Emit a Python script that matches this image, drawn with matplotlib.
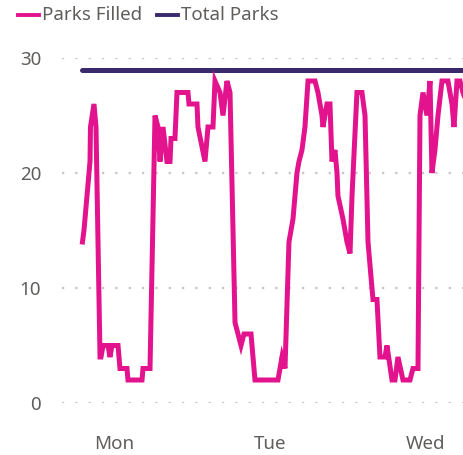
import matplotlib
matplotlib.use("Agg")
import matplotlib.pyplot as plt
from matplotlib.lines import Line2D

plt.rcParams['font.family'] = ['Noto Sans', 'DejaVu Sans']

# Occupancy readings: hours from Monday 00:00 and number of parks filled
hours = [-4.85, -4.62, -3.69, -3.62, -3.08, -2.77, -2.15, -2.00, -1.69, -0.92,
         -0.62, -0.31, 0.62, 0.92, 2.00, 2.15, 4.31, 4.46, 5.54, 6.31,
         6.77, 7.08, 7.54, 8.15, 8.62, 8.77, 9.38, 9.69, 11.38, 11.54,
         12.77, 12.92, 14.00, 14.46, 15.23, 15.54, 16.31, 16.77, 17.38, 17.85,
         18.62, 19.08, 19.54, 20.00, 21.08, 21.69, 25.23, 25.54, 25.85, 26.31,
         26.92, 27.54, 28.15, 28.46, 28.92, 29.38, 29.85, 30.92, 31.38, 32.00,
         32.15, 32.77, 33.23, 33.54, 34.00, 34.31, 34.46, 35.23, 35.85, 36.31,
         36.62, 37.38, 38.15, 38.62, 39.08, 39.69, 39.85, 40.46, 40.92, 41.69,
         42.00, 42.77, 43.23, 43.69, 44.46, 45.54, 46.00, 46.77, 47.08, 47.54,
         48.15, 48.62, 48.92, 49.38, 49.85, 50.46, 51.38, 52.00, 52.31, 52.77,
         53.23, 53.69, 54.31]
parks_filled = [14, 15, 21, 24, 26, 24, 4, 4, 5, 5,
                4, 5, 5, 3, 3, 2, 2, 3, 3, 25,
                24, 21, 24, 21, 21, 23, 23, 27, 27, 26,
                26, 24, 21, 24, 24, 28, 27, 25, 28, 27,
                7, 6, 5, 6, 6, 2, 2, 3, 4, 3,
                14, 16, 20, 21, 22, 24, 28, 28, 27, 25,
                24, 26, 26, 21, 22, 20, 18, 16, 14, 13,
                18, 27, 27, 25, 14, 10, 9, 9, 4, 4,
                5, 2, 2, 4, 2, 2, 3, 3, 25, 27,
                25, 28, 20, 22, 25, 28, 28, 26, 24, 28,
                28, 27, 26]
total_parks = 29

day_ticks = [0, 24, 48]
day_labels = ['Mon', 'Tue', 'Wed']
y_ticks = [0, 10, 20, 30]
series_names = ['Parks Filled', 'Total Parks']

filled_color = '#E3128D'
total_color = '#3B2A6B'
text_color = '#605E5C'
grid_color = '#C8C6C4'

W, H = 464, 455
fig = plt.figure(figsize=(W / 100, H / 100), dpi=100)
ax = fig.add_axes([62 / W, 52 / H, 1 - 62 / W, 345 / H])

ax.plot(hours, parks_filled, color=filled_color, lw=3.6, solid_joinstyle='miter',
        zorder=3)
ax.plot([hours[0], 60], [total_parks, total_parks], color=total_color, lw=3.6,
        solid_capstyle='round', zorder=2)

ax.set_xlim(-8, 53.85)
ax.set_ylim(0, 30)
ax.set_yticks(y_ticks)
ax.set_xticks(day_ticks)
ax.set_xticklabels(day_labels)

for v in y_ticks:
    ax.axhline(v, color=grid_color, lw=1.6, dashes=(1, 5), zorder=1)

for s in ax.spines.values():
    s.set_visible(False)
ax.tick_params(axis='both', length=0, colors=text_color, labelsize=13.5)
ax.tick_params(axis='y', pad=15)
ax.tick_params(axis='x', pad=23)

# Legend row along the top edge
legend_y = 1 - 15 / H
for color, name, x0 in zip([filled_color, total_color], series_names, [18, 157]):
    fig.add_artist(Line2D([x0 / W, (x0 + 21) / W], [legend_y, legend_y],
                          color=color, lw=2.8, transform=fig.transFigure))
    fig.text((x0 + 24) / W, legend_y, name, color=text_color, fontsize=13.5,
             va='center', ha='left')

fig.savefig('out.png', dpi=100)
